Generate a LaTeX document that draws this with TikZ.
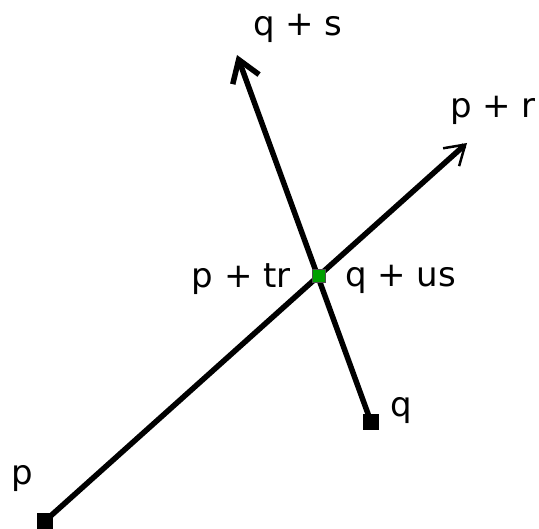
\documentclass[tikz,border=0pt]{standalone}
\usepackage{fontspec}
\setmainfont{DejaVu Sans}
\usetikzlibrary{arrows.meta}
\definecolor{PtGreen}{HTML}{00A000}

\begin{document}
\begin{tikzpicture}[
    x=1pt, y=-1pt,
    font=\fontsize{34}{38}\selectfont,
    endpt/.style={fill=black, minimum size=16pt, inner sep=0pt},
    meetpt/.style={fill=PtGreen, draw=black!70, line width=1pt, minimum size=13pt, inner sep=0pt},
    seg/.style={line width=5.5pt},
    lbl/.style={inner sep=0pt}
]
\useasboundingbox (0,0) rectangle (539,529);
\node[endpt] (p) at (45,521) {};
\node[endpt] (q) at (371,422) {};
\coordinate (pr) at (467,143);
\coordinate (qs) at (237,55);
\draw[seg, -{Straight Barb[length=19pt, width=24pt, line width=2.5pt]}] (p.center) -- (pr);
\draw[seg, -{Straight Barb[length=21pt, width=28pt, line width=5.5pt]}] (q.center) -- (qs);
\node[meetpt] (x) at (319,276) {};
\node[lbl] (lp) at (22,479) {p};
\node[lbl] (lq) at (401,411) {q};
\node[lbl] (lpr) at (493,110) {p + r};
\node[lbl] (lqs) at (298,28) {q + s};
\node[lbl, anchor=east] (lptr) at (291,279) {p + tr};
\node[lbl, anchor=west] (lqus) at (345,279) {q + us};
\end{tikzpicture}
\end{document}
